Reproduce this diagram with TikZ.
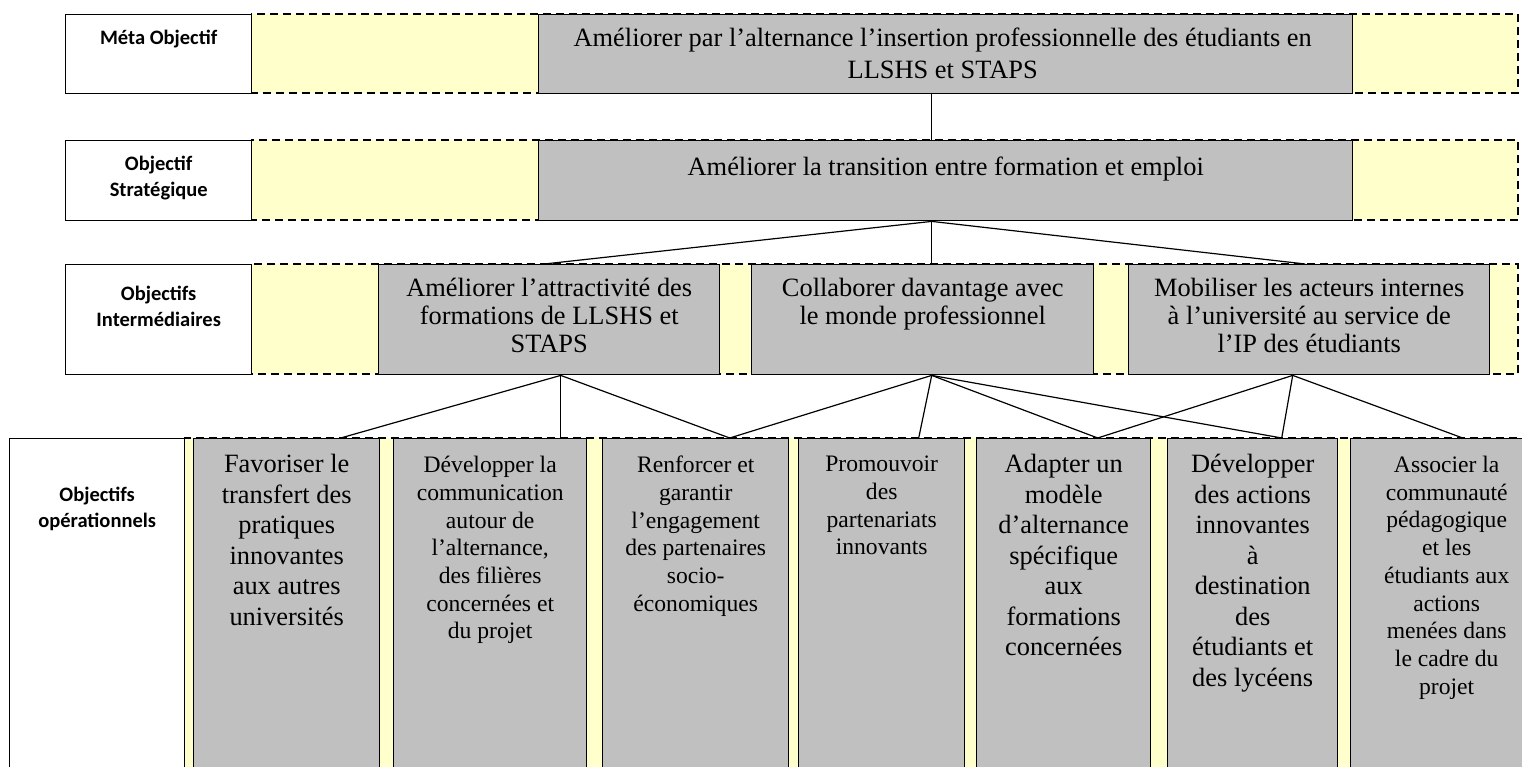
\documentclass[tikz,border=0pt]{standalone}
\usepackage{fontspec}
\setmainfont{Liberation Serif}
\newfontfamily\calib{Carlito}
\usetikzlibrary{positioning}
\definecolor{bandyellow}{HTML}{FFFFCC}
\definecolor{objgray}{HTML}{C0C0C0}
\tikzset{
  band/.style={draw, dash pattern=on 8pt off 5pt, fill=bandyellow, line width=1.4pt},
  rowbox/.style={draw, fill=white, line width=1.4pt, inner sep=0pt, anchor=north west},
  obj/.style={draw, fill=objgray, line width=1.4pt, inner sep=0pt, anchor=north west},
  rowtxt/.style={align=center, inner sep=0pt, font=\calib\bfseries\fontsize{20.5}{26}\selectfont},
  bigtxt/.style={align=center, inner sep=0pt, font=\fontsize{26.4}{30.5}\selectfont},
  smalltxt/.style={align=center, inner sep=0pt, font=\fontsize{23.6}{27.7}\selectfont},
  link/.style={line width=1.2pt},
}

\begin{document}
\begin{tikzpicture}[x=1pt,y=-1pt]
\useasboundingbox (0,0) rectangle (1522,767);
\clip (0,0) rectangle (1522,767);
% bands
\draw[band] (251,14) rectangle (1518,93);
\draw[band] (251,140) rectangle (1518,220);
\draw[band] (251,264) rectangle (1518,374);
\draw[band] (184,438) rectangle (1545,790);
% row titles
\node[rowbox, minimum width=186, minimum height=79] (L1) at (65,14) {};
\node[rowbox, minimum width=186, minimum height=80] (L2) at (65,140) {};
\node[rowbox, minimum width=186, minimum height=110] (L3) at (65,264) {};
\node[rowbox, minimum width=175, minimum height=352] (L4) at (9,438) {};
\node[rowtxt, below=16pt of L1.north] {Méta Objectif};
\node[rowtxt, below=16pt of L2.north] {Objectif\\Stratégique};
\node[rowtxt, below=22pt of L3.north] {Objectifs\\Intermédiaires};
\node[rowtxt, below=49pt of L4.north] {Objectifs\\opérationnels};
% objectives
\node[obj, minimum width=814, minimum height=79] (meta) at (538,14) {};
\node[obj, minimum width=814, minimum height=80] (strat) at (538,140) {};
\node[obj, minimum width=341, minimum height=110] (i1) at (378,264) {};
\node[obj, minimum width=342, minimum height=110] (i2) at (751,264) {};
\node[obj, minimum width=361, minimum height=110] (i3) at (1128,264) {};
\node[obj, minimum width=186, minimum height=352] (o1) at (193,438) {};
\node[obj, minimum width=193, minimum height=352] (o2) at (393,438) {};
\node[obj, minimum width=186, minimum height=352] (o3) at (602,438) {};
\node[obj, minimum width=166, minimum height=352] (o4) at (798,438) {};
\node[obj, minimum width=174, minimum height=352] (o5) at (976,438) {};
\node[obj, minimum width=170, minimum height=352] (o6) at (1167,438) {};
\node[obj, minimum width=192, minimum height=352] (o7) at (1350,438) {};
% texts
\node[bigtxt, below=14pt of meta.north, xshift=-3pt, font=\fontsize{26.4}{31.5}\selectfont]
  {Améliorer par l’alternance l’insertion professionnelle des étudiants en\\LLSHS et STAPS};
\node[bigtxt, below=17pt of strat.north] {Améliorer la transition entre formation et emploi};
\node[bigtxt, below=14pt of i1.north, font=\fontsize{26.4}{28}\selectfont]
  {Améliorer l’attractivité des\\formations de LLSHS et\\STAPS};
\node[bigtxt, below=14pt of i2.north, font=\fontsize{26.4}{28}\selectfont]
  {Collaborer davantage avec\\le monde professionnel};
\node[bigtxt, below=14pt of i3.north, font=\fontsize{26.4}{28}\selectfont]
  {Mobiliser les acteurs internes\\à l’université au service de\\l’IP des étudiants};
\node[bigtxt, below=16pt of o1.north]
  {Favoriser le\\transfert des\\pratiques\\innovantes\\aux autres\\universités};
\node[smalltxt, below=18pt of o2.north]
  {Développer la\\communication\\autour de\\l’alternance,\\des filières\\concernées et\\du projet};
\node[smalltxt, below=18pt of o3.north]
  {Renforcer et\\garantir\\l’engagement\\des partenaires\\socio-\\économiques};
\node[smalltxt, below=18pt of o4.north]
  {Promouvoir\\des\\partenariats\\innovants};
\node[bigtxt, below=16pt of o5.north]
  {Adapter un\\modèle\\d’alternance\\spécifique\\aux\\formations\\concernées};
\node[bigtxt, below=16pt of o6.north]
  {Développer\\des actions\\innovantes\\à\\destination\\des\\étudiants et\\des lycéens};
\node[smalltxt, below=18pt of o7.north]
  {Associer la\\communauté\\pédagogique\\et les\\étudiants aux\\actions\\menées dans\\le cadre du\\projet};
% links
\path[link]
([xshift=-14pt]meta.south) edge ([xshift=-14pt]strat.north)
([xshift=-14pt]strat.south) edge ([xshift=-5pt]i1.north)
([xshift=-14pt]strat.south) edge ([xshift=9pt]i2.north)
([xshift=-14pt]strat.south) edge ([xshift=-4pt]i3.north)
;
\path[link]
([xshift=11.5pt]i1.south) edge ([xshift=54pt]o1.north)
([xshift=11.5pt]i1.south) edge ([xshift=70.5pt]o2.north)
([xshift=11.5pt]i1.south) edge ([xshift=34pt]o3.north)
([xshift=9pt]i2.south) edge ([xshift=34pt]o3.north)
([xshift=9pt]i2.south) edge ([xshift=37pt]o4.north)
([xshift=9pt]i2.south) edge ([xshift=34pt]o5.north)
([xshift=9pt]i2.south) edge ([xshift=29pt]o6.north)
;
\path[link]
([xshift=-16.5pt]i3.south) edge ([xshift=34pt]o5.north)
([xshift=-16.5pt]i3.south) edge ([xshift=29pt]o6.north)
([xshift=-16.5pt]i3.south) edge ([xshift=16pt]o7.north)
;
\end{tikzpicture}
\end{document}
